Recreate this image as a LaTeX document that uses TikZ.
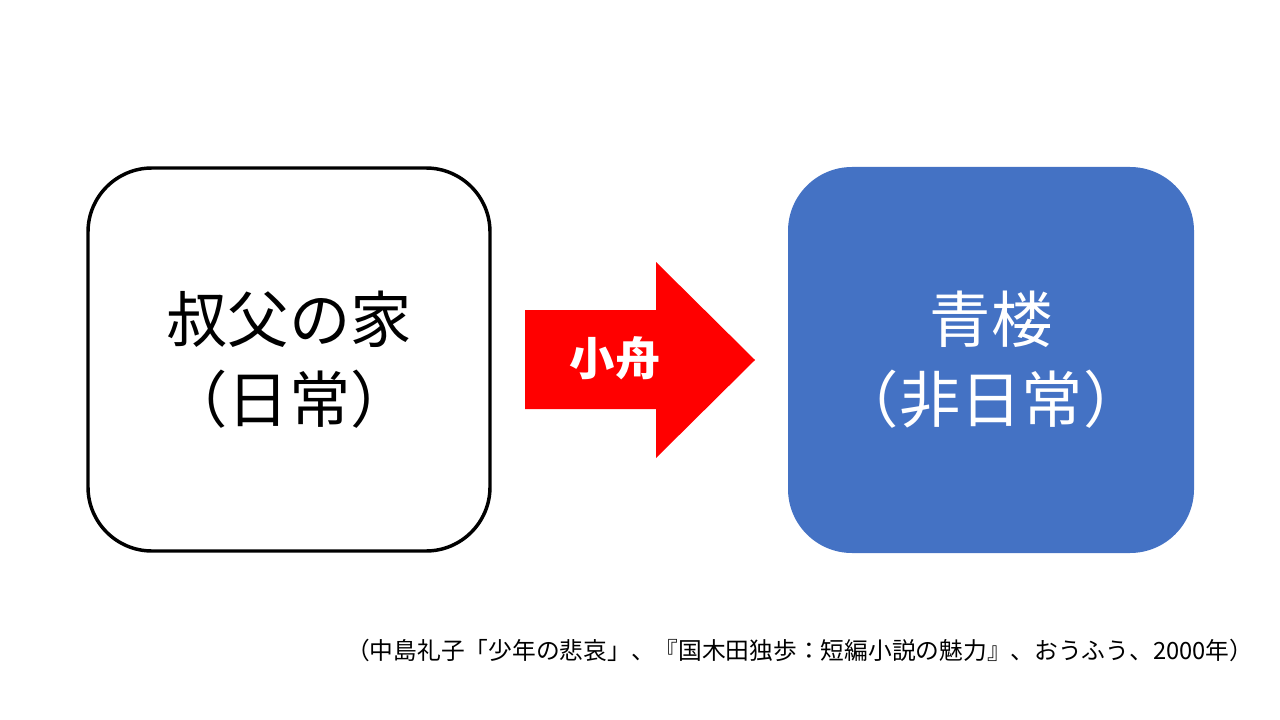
\documentclass[tikz,border=0pt]{standalone}
\usepackage{fontspec}
\newfontfamily\jpfont{Noto Sans CJK JP}
\usetikzlibrary{positioning}
\tikzset{
  place/.style={rounded corners=48pt, minimum width=#1, minimum height=287.25pt,
                align=center, font=\jpfont\fontsize{46}{60}\selectfont},
}

\begin{document}
\begin{tikzpicture}[x=0.75pt,y=-0.75pt]

\useasboundingbox (0,0) rectangle (1280,720);

\definecolor{placeblue}{RGB}{68,114,196}
\def\shaftleft{525};\def\headbase{656};\def\tipx{755};
\def\shafttop{310};\def\shaftbot{409};\def\headtop{262};\def\headbot{458};


\coordinate (tip) at (\tipx,360);

% everyday place
\node (uncle) [place=301.5pt, draw=black, line width=2.6pt, fill=white]
      at (289,359.5) {叔父の家\\（日常）};

% non-everyday place
\node (brothel) [place=304.5pt, fill=placeblue, text=white, minimum height=289.5pt]
      at (991,360) {青楼\\（非日常）};

% the boat between them
\fill[red] (\shaftleft,\shafttop) -- (\headbase,\shafttop) -- (\headbase,\headtop)
   -- (tip) -- (\headbase,\headbot) -- (\headbase,\shaftbot)
   -- (\shaftleft,\shaftbot) -- cycle;
\node (boat) [text=white, font=\jpfont\bfseries\fontsize{34}{40}\selectfont]
      at (615,358) {小舟};

% source
\node (source) [anchor=east, font=\jpfont\fontsize{17.8}{21}\selectfont]
      at (1258,650) {（中島礼子「少年の悲哀」、『国木田独歩：短編小説の魅力』、おうふう、2000年）};

\end{tikzpicture}
\end{document}
